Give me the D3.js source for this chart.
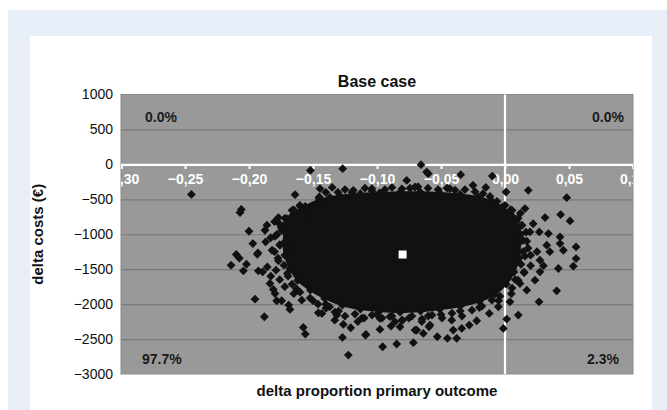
<!DOCTYPE html>
<html>
<head>
<meta charset="utf-8">
<script src="https://cdn.jsdelivr.net/npm/d3@7"></script>
<style>
  html, body { margin: 0; padding: 0; background: #fff; }
  text { font-family: "Liberation Sans", Arial, sans-serif; }
</style>
</head>
<body>
<div id="chart"></div>
<script>
const title = 'Base case';
const xLabel = 'delta proportion primary outcome';
const yLabel = 'delta costs (€)';

const xTicks = [-0.30, -0.25, -0.20, -0.15, -0.10, -0.05, 0.00, 0.05, 0.10];
const yTicks = [1000, 500, 0, -500, -1000, -1500, -2000, -2500, -3000];

// top-left, top-right, bottom-left, bottom-right
const quadrantShares = ['0.0%', '0.0%', '97.7%', '2.3%'];

// outer edge of the dense part of the cloud (delta effect, delta cost)
const cloudOutline = [
  [-0.172, -970], [-0.166, -730], [-0.156, -600], [-0.145, -510], [-0.129, -450],
  [-0.113, -420], [-0.098, -410], [-0.082, -400], [-0.066, -400], [-0.051, -410],
  [-0.035, -430], [-0.021, -470], [-0.010, -530], [-0.002, -610], [0.0055, -740],
  [0.010, -915], [0.0115, -1115], [0.011, -1340], [0.007, -1540], [0.001, -1715],
  [-0.008, -1860], [-0.020, -1960], [-0.035, -2030], [-0.051, -2070], [-0.066, -2100],
  [-0.082, -2115], [-0.098, -2100], [-0.113, -2070], [-0.127, -2015], [-0.141, -1915],
  [-0.152, -1800], [-0.162, -1660], [-0.168, -1485], [-0.172, -1300], [-0.173, -1130]
];

// simulations sitting just on the rim of the dense core
const rimPoints = [
  [-0.1367, -471], [-0.1305, -400], [-0.125, -360], [-0.1195, -400], [-0.1094, -340], [-0.1039, -380],
  [-0.0938, -360], [-0.0883, -330], [-0.0805, -350], [-0.0742, -340], [-0.068, -320], [-0.0602, -340],
  [-0.0523, -360], [-0.0453, -340], [-0.039, -370], [-0.0313, -360], [-0.0234, -390], [-0.0172, -420],
  [-0.0117, -460], [-0.0063, -530],
  [-0.1602, -586], [-0.1664, -657], [-0.1719, -771], [-0.1773, -829], [-0.1742, -943], [-0.1797, -1029],
  [-0.1758, -1157], [-0.182, -1229], [-0.1773, -1343], [-0.1727, -1443], [-0.1789, -1514], [-0.1695, -1600],
  [-0.1664, -1714], [-0.1602, -1829], [-0.1523, -1914], [-0.1461, -2000], [-0.1398, -2057],
  [-0.1328, -2114], [-0.125, -2171], [-0.1172, -2143], [-0.1117, -2200], [-0.1039, -2157], [-0.0961, -2200],
  [-0.0883, -2171], [-0.0805, -2229], [-0.0727, -2171], [-0.0648, -2214], [-0.057, -2157], [-0.0492, -2200],
  [-0.0414, -2129], [-0.0336, -2171], [-0.0258, -2086], [-0.018, -2029], [-0.0102, -1943], [-0.0039, -1886],
  [0.000, -586], [0.0055, -657], [0.0102, -771], [0.0133, -871], [0.0164, -971], [0.0141, -1086],
  [0.018, -1200], [0.0156, -1314], [0.0125, -1429], [0.0148, -1543], [0.0102, -1657], [0.0055, -1771]
];

// simulations lying outside the dense core
const simPoints = [
  // left side
  [-0.245, -430], [-0.164, -433], [-0.152, -86], [-0.1505, -633], [-0.206, -645], [-0.207, -690],
  [-0.200, -957], [-0.197, -1133], [-0.193, -1267], [-0.187, -1110], [-0.177, -762], [-0.1875, -943],
  [-0.210, -1290], [-0.2075, -1343], [-0.214, -1443], [-0.202, -1429], [-0.2044, -1524], [-0.1935, -1286],
  [-0.1927, -1524], [-0.1893, -1538], [-0.1857, -1467], [-0.1836, -1705], [-0.181, -1790], [-0.1797, -1848],
  [-0.1784, -1952], [-0.1953, -1929], [-0.188, -2181], [-0.1745, -1952], [-0.169, -2014], [-0.168, -2076],
  [-0.1588, -1943], [-0.1576, -2333], [-0.156, -2429], [-0.1458, -2124], [-0.1523, -752],
  [-0.1445, -348], [-0.145, -467], [-0.186, -870], [-0.180, -820], [-0.175, -900], [-0.178, -1000],
  [-0.172, -860], [-0.183, -1050], [-0.176, -1150], [-0.170, -780], [-0.165, -650], [-0.160, -600],
  [-0.158, -700], [-0.168, -1200], [-0.180, -1250], [-0.177, -1380], [-0.183, -1600], [-0.176, -1650],
  [-0.172, -1750], [-0.165, -1850], [-0.163, -1780], [-0.170, -1560],
  // top
  [-0.1268, -62], [-0.0656, -5], [-0.0768, -229], [-0.0599, -133], [-0.0612, -110], [-0.0346, -148],
  [-0.0099, -167], [-0.1453, -481], [-0.1185, -371], [-0.104, -348], [-0.095, -395], [-0.0703, -324],
  [-0.043, -348], [-0.025, -300], [-0.015, -330], [-0.135, -330], [-0.140, -400], [0.0008, -395],
  // right side
  [0.0182, -371], [0.0482, -476], [0.0435, -719], [0.0508, -810], [0.0313, -762], [0.0156, -633],
  [0.0044, -648], [0.0195, -967], [0.0339, -990], [0.0268, -967], [0.043, -1038], [0.0555, -1181],
  [0.0555, -1348], [0.0534, -1457], [0.0417, -1490], [0.0456, -1229], [0.043, -1133], [0.0326, -1157],
  [0.0273, -1371], [0.0273, -1538], [0.0234, -1657], [0.017, -1800], [0.0117, -1705], [0.0404, -1810],
  [0.0266, -1967], [0.0039, -1967], [-0.0052, -2038], [0.0104, -2157], [0.0013, -2214], [-0.0013, -2348],
  [-0.0123, -2133], [0.017, -1100], [0.014, -1250], [0.020, -1450], [0.015, -1550], [0.009, -820],
  [0.012, -700], [0.025, -1250], [0.008, -1650], [0.005, -1850], [-0.005, -1950], [0.012, -1000],
  [0.022, -850], [0.035, -1250], [0.030, -1450], [0.020, -1300],
  // bottom
  [-0.1224, -2729], [-0.127, -2476], [-0.0956, -2610], [-0.0846, -2571], [-0.0716, -2552], [-0.1086, -2433],
  [-0.1205, -2338], [-0.1263, -2290], [-0.0977, -2362], [-0.089, -2314], [-0.069, -2371], [-0.0638, -2419],
  [-0.0594, -2324], [-0.0529, -2467], [-0.045, -2490], [-0.0377, -2490], [-0.0404, -2371], [-0.0338, -2348],
  [-0.0279, -2300], [-0.0221, -2238], [-0.1315, -2157], [-0.143, -2133], [-0.137, -2038], [-0.133, -2229],
  [-0.109, -2443], [-0.0977, -2205], [-0.086, -2252], [-0.082, -2324], [-0.0703, -2371], [-0.0586, -2300],
  [-0.0416, -2229], [-0.110, -2200], [-0.100, -2150], [-0.090, -2180], [-0.075, -2200], [-0.060, -2170],
  [-0.050, -2150], [-0.035, -2100], [-0.020, -2050], [-0.130, -2100], [-0.140, -2000], [-0.150, -1950],
  [-0.115, -2250], [-0.080, -2230], [-0.065, -2250]
];

const meanPoint = [-0.080, -1290];

const W = 667, H = 410;
const margin = { top: 94.5, right: 34, bottom: 36, left: 121 };
const width = W - margin.left - margin.right;
const height = H - margin.top - margin.bottom;

const root = d3.select('#chart').append('svg')
  .attr('width', W)
  .attr('height', H);

root.append('rect').attr('x', 8).attr('y', 10).attr('width', W - 8).attr('height', H - 10).attr('fill', '#e7eef8');
root.append('rect').attr('x', 30).attr('y', 36).attr('width', 622).attr('height', H - 36).attr('fill', '#ffffff');

const svg = root.append('g').attr('transform', `translate(${margin.left},${margin.top})`);

const x = d3.scaleLinear().domain([-0.3, 0.1]).range([0, width]);
const y = d3.scaleLinear().domain([-3000, 1000]).range([height, 0]);

svg.append('defs').append('clipPath').attr('id', 'plot-clip')
  .append('rect').attr('width', width).attr('height', height);

svg.append('rect')
  .attr('width', width).attr('height', height)
  .attr('fill', '#999999').attr('stroke', '#8a8a8a');

// y axis: labels on the left, grid lines across
svg.append('g')
  .call(d3.axisLeft(y).tickValues(yTicks).tickSize(0).tickPadding(8).tickFormat(d => d3.format('d')(d).replace('-', '\u2212')))
  .call(g => g.select('.domain').remove())
  .call(g => g.selectAll('.tick text').attr('fill', '#111').style('font-size', '14px'))
  .call(g => g.selectAll('.tick').filter(d => d !== 0 && d !== 1000 && d !== -3000)
    .append('line').attr('x2', width).attr('stroke', '#7a7a7a').attr('stroke-width', 1.2));

// vertical zero line
svg.append('line')
  .attr('x1', x(0)).attr('x2', x(0)).attr('y1', 0).attr('y2', height)
  .attr('stroke', '#ffffff').attr('stroke-width', 2.2);

// x axis sits on delta cost = 0, labels clipped to the plot
svg.append('g')
  .attr('clip-path', 'url(#plot-clip)')
  .append('g')
  .attr('transform', `translate(0,${y(0)})`)
  .call(d3.axisBottom(x).tickValues(xTicks).tickSize(4.5).tickPadding(5)
    .tickFormat(d => d3.format('.2f')(d).replace('.', ',').replace('-', '\u2212')))
  .call(g => g.select('.domain').attr('stroke', '#ffffff').attr('stroke-width', 2.4))
  .call(g => g.selectAll('.tick line').attr('stroke', '#ffffff').attr('stroke-width', 2))
  .call(g => g.selectAll('.tick text').attr('fill', '#ffffff').style('font-size', '14px').style('font-weight', 'bold'));

const diamond = 'M0,-4.4L4.4,0L0,4.4L-4.4,0Z';
const cloud = svg.append('g').attr('clip-path', 'url(#plot-clip)');

cloud.append('path')
  .datum(cloudOutline)
  .attr('fill', '#111111')
  .attr('stroke', '#111111')
  .attr('stroke-width', 2)
  .attr('d', d3.line().x(d => x(d[0])).y(d => y(d[1])).curve(d3.curveCatmullRomClosed));

cloud.selectAll('path.sim')
  .data(cloudOutline.concat(rimPoints, simPoints))
  .enter().append('path')
  .attr('class', 'sim')
  .attr('transform', d => `translate(${x(d[0])},${y(d[1])})`)
  .attr('d', diamond)
  .attr('fill', '#111111');

svg.append('rect')
  .attr('x', x(meanPoint[0]) - 4).attr('y', y(meanPoint[1]) - 4)
  .attr('width', 8).attr('height', 8)
  .attr('fill', '#ffffff');

// quadrant shares
const qPos = [
  { x: 24, y: 27, anchor: 'start' },
  { x: width - 9, y: 27, anchor: 'end' },
  { x: 21, y: height - 10, anchor: 'start' },
  { x: width - 14, y: height - 10, anchor: 'end' }
];
svg.selectAll('text.share')
  .data(quadrantShares)
  .enter().append('text')
  .attr('class', 'share')
  .attr('x', (d, i) => qPos[i].x)
  .attr('y', (d, i) => qPos[i].y)
  .attr('text-anchor', (d, i) => qPos[i].anchor)
  .style('font-size', '14px').style('font-weight', 'bold')
  .attr('fill', '#1a1a1a')
  .text(d => d);

svg.append('text')
  .attr('x', width / 2).attr('y', -7.5)
  .attr('text-anchor', 'middle')
  .style('font-size', '16px').style('font-weight', 'bold')
  .attr('fill', '#111')
  .text(title);

svg.append('text')
  .attr('x', width / 2).attr('y', height + 22)
  .attr('text-anchor', 'middle')
  .style('font-size', '15px').style('font-weight', 'bold')
  .attr('fill', '#111')
  .text(xLabel);

svg.append('text')
  .attr('transform', 'rotate(-90)')
  .attr('x', -height / 2).attr('y', -margin.left + 43)
  .attr('text-anchor', 'middle')
  .style('font-size', '15px').style('font-weight', 'bold')
  .attr('fill', '#111')
  .text(yLabel);
</script>
</body>
</html>
